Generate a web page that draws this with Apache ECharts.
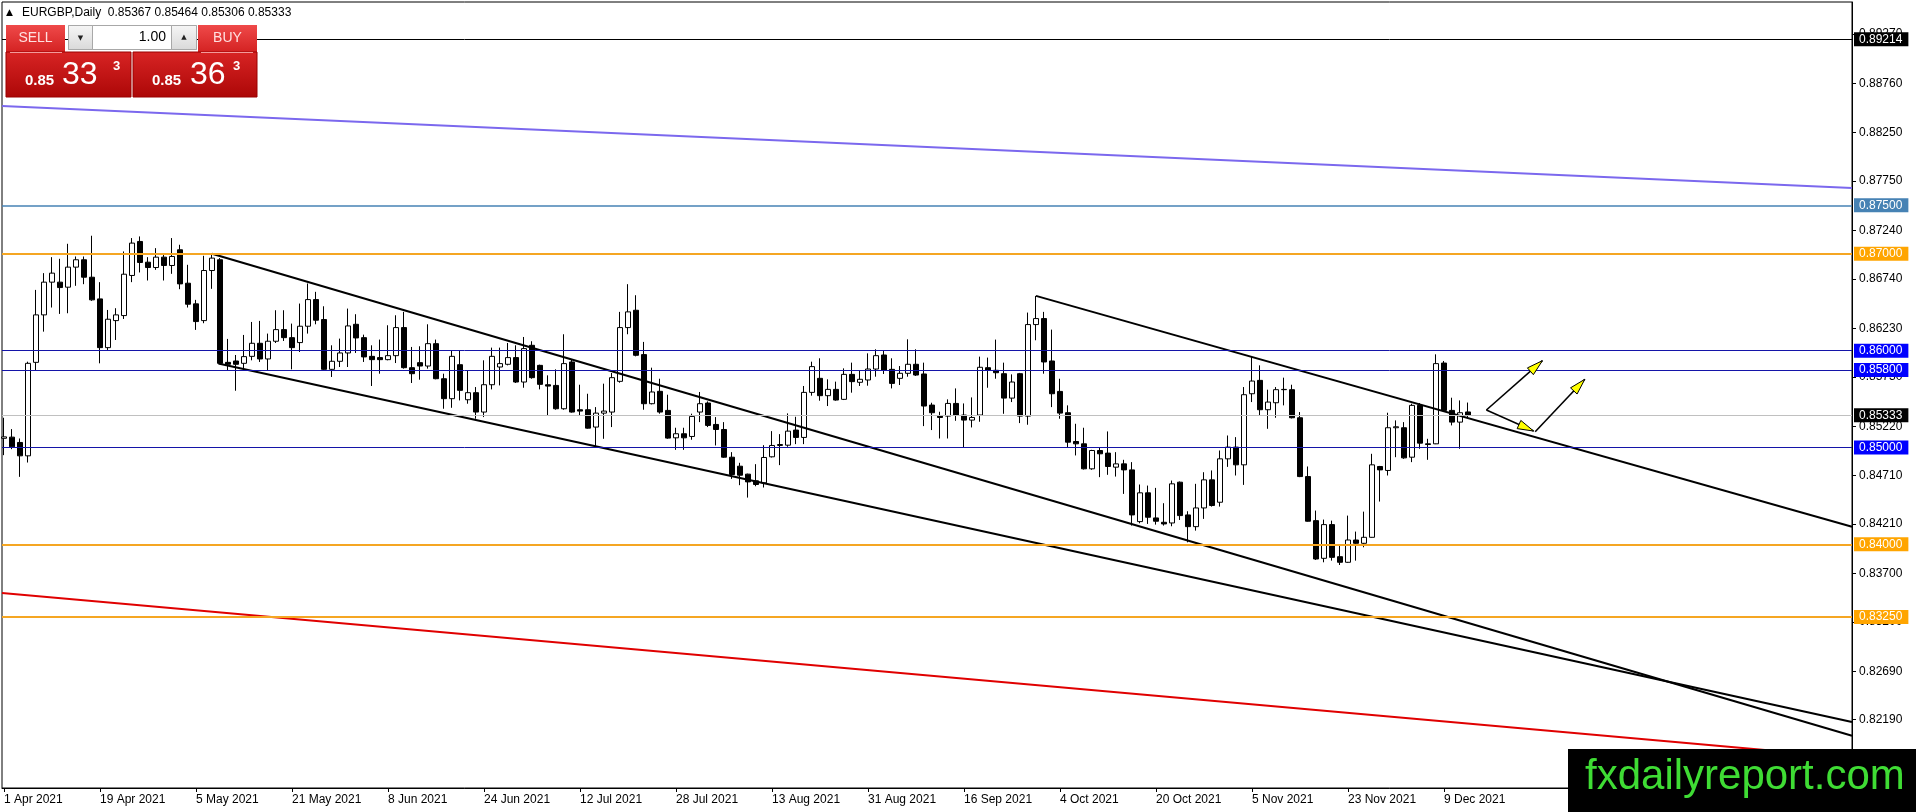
<!DOCTYPE html>
<html><head><meta charset="utf-8">
<script src="https://cdn.jsdelivr.net/npm/echarts@6/dist/echarts.min.js"></script>
<style>html,body{margin:0;padding:0;background:#fff}#c{width:1916px;height:812px}</style>
</head><body><div id="c"></div><script>
// ---------- DATA ----------
const symbolName = 'EURGBP,Daily';
const bidPrice = 0.85333;
const askPrice = 0.85363;
// daily candles [open, high, low, close], 1 Apr 2021 .. 14 Dec 2021
const ohlc = [
[0.85095,0.85307,0.84921,0.85110],[0.85107,0.85190,0.84983,0.85007],[0.85052,0.85093,0.84697,0.84914],[0.84914,0.85886,0.84845,0.85869],
[0.85879,0.86627,0.85800,0.86369],[0.86369,0.86800,0.86196,0.86707],[0.86707,0.86965,0.86445,0.86800],[0.86707,0.86948,0.86379,0.86651],
[0.86655,0.87103,0.86386,0.86862],[0.86862,0.86972,0.86669,0.86938],[0.86938,0.86972,0.86686,0.86758],[0.86758,0.87186,0.86514,0.86524],
[0.86534,0.86707,0.85869,0.86031],[0.86031,0.86420,0.86007,0.86324],[0.86310,0.86438,0.86110,0.86369],[0.86362,0.87024,0.86327,0.86789],
[0.86776,0.87162,0.86707,0.87110],[0.87127,0.87179,0.86807,0.86910],[0.86913,0.86965,0.86724,0.86858],[0.86858,0.87058,0.86834,0.86965],
[0.86965,0.86996,0.86724,0.86879],[0.86879,0.87162,0.86793,0.86972],[0.87041,0.87093,0.86634,0.86689],[0.86696,0.86886,0.86445,0.86479],
[0.86483,0.86524,0.86214,0.86300],[0.86310,0.86979,0.86283,0.86827],[0.86827,0.86996,0.86638,0.86955],[0.86938,0.86955,0.85859,0.85869],
[0.85879,0.86121,0.85800,0.85859],[0.85893,0.85955,0.85586,0.85859],[0.85869,0.86162,0.85800,0.85938],[0.85941,0.86296,0.85900,0.86076],
[0.86076,0.86307,0.85883,0.85914],[0.85914,0.86176,0.85797,0.86097],[0.86097,0.86417,0.86079,0.86217],[0.86217,0.86417,0.86100,0.86134],
[0.86134,0.86279,0.85807,0.86031],[0.86083,0.86486,0.85986,0.86252],[0.86252,0.86693,0.86176,0.86527],[0.86527,0.86607,0.86272,0.86314],
[0.86321,0.86458,0.85797,0.85807],[0.85807,0.86055,0.85728,0.85890],[0.85890,0.86124,0.85831,0.85976],[0.85976,0.86434,0.85831,0.86255],
[0.86272,0.86376,0.85976,0.86131],[0.86134,0.86165,0.85883,0.85935],[0.85941,0.86055,0.85635,0.85907],[0.85928,0.86114,0.85762,0.85907],
[0.85907,0.86262,0.85900,0.85948],[0.85948,0.86365,0.85872,0.86238],[0.86238,0.86400,0.85814,0.85824],[0.85824,0.86038,0.85666,0.85762],
[0.85876,0.86045,0.85700,0.85841],[0.85841,0.86272,0.85814,0.86072],[0.86072,0.86114,0.85704,0.85710],[0.85710,0.85762,0.85400,0.85504],
[0.85504,0.85997,0.85410,0.85941],[0.85855,0.85997,0.85486,0.85590],[0.85493,0.85797,0.85452,0.85566],[0.85566,0.85624,0.85297,0.85366],
[0.85366,0.85900,0.85314,0.85648],[0.85648,0.86031,0.85600,0.85941],[0.85831,0.86031,0.85641,0.85866],[0.85859,0.86079,0.85848,0.85928],
[0.85928,0.86055,0.85666,0.85676],[0.85676,0.86141,0.85617,0.86021],[0.86055,0.86097,0.85710,0.85721],[0.85848,0.85855,0.85600,0.85652],
[0.85648,0.85745,0.85331,0.85634],[0.85641,0.85807,0.85390,0.85400],[0.85400,0.86169,0.85390,0.85866],[0.85883,0.85907,0.85360,0.85366],
[0.85390,0.85648,0.85331,0.85376],[0.85390,0.85555,0.85195,0.85200],[0.85211,0.85417,0.85004,0.85355],[0.85355,0.85659,0.85090,0.85376],
[0.85366,0.85769,0.85211,0.85721],[0.85683,0.86400,0.85669,0.86238],[0.86238,0.86686,0.86169,0.86400],[0.86417,0.86572,0.85941,0.85952],
[0.85959,0.86090,0.85390,0.85452],[0.85452,0.85824,0.85445,0.85573],[0.85580,0.85710,0.85349,0.85366],[0.85383,0.85545,0.85090,0.85097],
[0.85100,0.85204,0.84976,0.85142],[0.85142,0.85204,0.84976,0.85100],[0.85114,0.85349,0.85080,0.85321],[0.85366,0.85573,0.85262,0.85452],
[0.85459,0.85476,0.85211,0.85228],[0.85238,0.85314,0.85021,0.85186],[0.85186,0.85262,0.84893,0.84900],[0.84900,0.84952,0.84676,0.84721],
[0.84807,0.84842,0.84611,0.84714],[0.84725,0.84730,0.84483,0.84645],[0.84656,0.84828,0.84600,0.84618],[0.84635,0.85024,0.84587,0.84897],
[0.84904,0.85169,0.84897,0.85021],[0.85021,0.85138,0.84818,0.85031],[0.85024,0.85352,0.85007,0.85169],[0.85180,0.85317,0.85035,0.85104],
[0.85104,0.85635,0.85035,0.85569],[0.85569,0.85886,0.85535,0.85835],[0.85714,0.85921,0.85483,0.85535],[0.85535,0.85704,0.85428,0.85600],
[0.85600,0.85680,0.85483,0.85490],[0.85497,0.85817,0.85490,0.85755],[0.85755,0.85876,0.85566,0.85680],[0.85673,0.85793,0.85635,0.85704],
[0.85697,0.85972,0.85638,0.85810],[0.85810,0.86014,0.85731,0.85948],[0.85955,0.86000,0.85759,0.85800],[0.85807,0.85921,0.85610,0.85662],
[0.85714,0.85841,0.85645,0.85766],[0.85766,0.86117,0.85731,0.85859],[0.85859,0.86014,0.85738,0.85748],[0.85759,0.85876,0.85221,0.85428],
[0.85438,0.85462,0.85180,0.85359],[0.85324,0.85369,0.85093,0.85310],[0.85324,0.85497,0.85093,0.85455],[0.85455,0.85610,0.85276,0.85335],
[0.85335,0.85455,0.85000,0.85283],[0.85283,0.85517,0.85207,0.85310],[0.85335,0.85938,0.85266,0.85828],[0.85824,0.85928,0.85617,0.85797],
[0.85797,0.86114,0.85710,0.85772],[0.85762,0.85876,0.85348,0.85510],[0.85510,0.85755,0.85469,0.85676],[0.85762,0.85770,0.85252,0.85324],
[0.85324,0.86393,0.85235,0.86269],[0.86269,0.86565,0.86107,0.86331],[0.86331,0.86400,0.85762,0.85883],[0.85893,0.86217,0.85417,0.85555],
[0.85579,0.85710,0.85297,0.85355],[0.85359,0.85435,0.85004,0.85055],[0.85062,0.85245,0.84918,0.85038],[0.85038,0.85204,0.84773,0.84780],
[0.84780,0.84976,0.84770,0.84969],[0.84969,0.85004,0.84694,0.84935],[0.84942,0.85166,0.84718,0.84804],[0.84797,0.84952,0.84700,0.84831],
[0.84831,0.84873,0.84521,0.84769],[0.84769,0.84849,0.84194,0.84304],[0.84235,0.84618,0.84218,0.84532],[0.84532,0.84607,0.84211,0.84280],
[0.84273,0.84583,0.84204,0.84239],[0.84228,0.84425,0.84194,0.84211],[0.84221,0.84659,0.84187,0.84625],[0.84642,0.84649,0.84252,0.84297],
[0.84304,0.84342,0.84021,0.84183],[0.84183,0.84625,0.84142,0.84376],[0.84376,0.84745,0.84263,0.84666],[0.84666,0.84763,0.84390,0.84401],
[0.84435,0.84969,0.84390,0.84883],[0.84883,0.85124,0.84800,0.85004],[0.85004,0.85107,0.84711,0.84821],[0.84821,0.85624,0.84614,0.85545],
[0.85555,0.85941,0.85469,0.85686],[0.85693,0.85848,0.85331,0.85390],[0.85390,0.85597,0.85193,0.85469],[0.85462,0.85624,0.85307,0.85597],
[0.85597,0.85721,0.85435,0.85600],[0.85597,0.85648,0.85300,0.85307],[0.85307,0.85366,0.84694,0.84700],[0.84700,0.84804,0.84235,0.84239],
[0.84245,0.84349,0.83839,0.83849],[0.83856,0.84256,0.83815,0.84204],[0.84204,0.84245,0.83832,0.83866],[0.83873,0.83994,0.83787,0.83815],
[0.83815,0.84297,0.83810,0.84045],[0.84045,0.84132,0.83832,0.84011],[0.84011,0.84338,0.83970,0.84073],[0.84073,0.84935,0.84070,0.84821],
[0.84804,0.84810,0.84442,0.84769],[0.84763,0.85359,0.84711,0.85204],[0.85204,0.85280,0.84900,0.85214],[0.85204,0.85262,0.84883,0.84893],
[0.84900,0.85452,0.84849,0.85435],[0.85435,0.85459,0.84987,0.85045],[0.85038,0.85090,0.84873,0.85031],[0.85038,0.85962,0.85035,0.85866],
[0.85872,0.85893,0.85376,0.85383],[0.85383,0.85514,0.85228,0.85262],[0.85262,0.85486,0.84987,0.85359],[0.85367,0.85464,0.85306,0.85333]
];
// x-axis date labels and the bar index they sit on
const dateLabels = ['1 Apr 2021','19 Apr 2021','5 May 2021','21 May 2021','8 Jun 2021','24 Jun 2021','12 Jul 2021','28 Jul 2021',
  '13 Aug 2021','31 Aug 2021','16 Sep 2021','4 Oct 2021','20 Oct 2021','5 Nov 2021','23 Nov 2021','9 Dec 2021'];
const dateTickBars = [0,12,24,36,48,60,72,84,96,108,120,132,144,156,168,180];
// right price-scale tick labels
const priceTicks = [0.89270,0.88760,0.88250,0.87750,0.87240,0.86740,0.86230,0.85730,0.85220,0.84710,0.84210,0.83700,0.83200,0.82690,0.82190];
// horizontal levels
const levelPrices = [0.89214, 0.87500, 0.87000, 0.86000, 0.85800, 0.85333, 0.85000, 0.84000, 0.83250];
// trend lines [barIndex, price]
const channelTop    = [[26, 0.87000], [231, 0.82025]];
const channelBottom = [[26.8, 0.85867], [231, 0.82166]];
const fallLine      = [[129, 0.86565], [231, 0.84182]];
const violetLine    = [[-0.25, 0.88525], [231, 0.87679]];
const redLine       = [[-0.25, 0.83497], [231, 0.81797]];
// arrows [fromBar, fromPrice, toBar, toPrice]
const arrows = [
  [185.3, 0.85387, 192.3, 0.85896],
  [185.3, 0.85387, 191.2, 0.85170],
  [191.4, 0.85163, 197.6, 0.85704]
];

// ---------- STYLE ----------
const FONT = 'Liberation Sans, Arial, sans-serif';
const levelStyle = [
  {line:'#000000', w:1,   box:'#000000'},
  {line:'#4682b4', w:1.5, box:'#4682b4'},
  {line:'#f5a623', w:2,   box:'#ffa500'},
  {line:'#1414a8', w:1,   box:'#0000ff'},
  {line:'#1414a8', w:1,   box:'#0000ff'},
  {line:'#c0c0c0', w:1,   box:'#000000'},
  {line:'#1414a8', w:1,   box:'#0000ff'},
  {line:'#f5a623', w:2,   box:'#ffa500'},
  {line:'#f5a623', w:2,   box:'#ffa500'}
];

const candleSource = ohlc.map((r, i) => [i, r[0], r[3], r[2], r[1]]);
const last = ohlc[ohlc.length - 1];
const titleText = symbolName + '  ' + last.map(v => v.toFixed(5)).join(' ');

function splitPrice(p) {
  const s = p.toFixed(5);
  return {head: s.slice(0, 4), big: s.slice(4, 6), pip: s.slice(6)};
}
const bidS = splitPrice(bidPrice), askS = splitPrice(askPrice);

const markData = levelPrices.map((p, k) => ({
  yAxis: p,
  lineStyle: {color: levelStyle[k].line, width: levelStyle[k].w, type: 'solid'},
  label: {show: true, position: 'end', distance: 2, formatter: p.toFixed(5),
    backgroundColor: levelStyle[k].box, color: '#fff', fontSize: 12, fontFamily: FONT,
    padding: [1, 6, 0, 5], lineHeight: 13}
}));

function trend(pts, color, width) {
  return {type: 'line', data: pts, symbol: 'none', silent: true, z: 4, animation: false,
    lineStyle: {color: color, width: width}, clip: false};
}

const redGrad = (a, b) => ({type: 'linear', x: 0, y: 0, x2: 0, y2: 1, colorStops: [{offset: 0, color: a}, {offset: 1, color: b}]});
const grayGrad = redGrad('#f6f6f6', '#d9d9d9');

const g = [];
// title
g.push({type: 'text', z: 100, style: {x: 6, y: 13, text: '▲', font: '9px DejaVu Sans', fill: '#000', verticalAlign: 'middle'}});
g.push({type: 'text', z: 100, style: {x: 22, y: 13, text: titleText, font: '12px ' + FONT, fill: '#000', verticalAlign: 'middle'}});
// sell / buy panel
g.push({type: 'rect', z: 100, shape: {x: 6, y: 25, width: 59, height: 27}, style: {fill: redGrad('#ef4a4a', '#d42222')}});
g.push({type: 'rect', z: 100, shape: {x: 198, y: 25, width: 59, height: 27}, style: {fill: redGrad('#ef4a4a', '#d42222')}});
g.push({type: 'rect', z: 100, shape: {x: 6, y: 52, width: 125, height: 45}, style: {fill: redGrad('#d82424', '#ac0707'), stroke: '#9a0000', lineWidth: 1}});
g.push({type: 'rect', z: 100, shape: {x: 133, y: 52, width: 124, height: 45}, style: {fill: redGrad('#d82424', '#ac0707'), stroke: '#9a0000', lineWidth: 1}});
g.push({type: 'line', z: 101, shape: {x1: 10, y1: 52.5, x2: 62, y2: 52.5}, style: {stroke: '#f39a9a', lineWidth: 1}});
g.push({type: 'line', z: 101, shape: {x1: 201, y1: 52.5, x2: 253, y2: 52.5}, style: {stroke: '#f39a9a', lineWidth: 1}});
g.push({type: 'text', z: 101, style: {x: 35.5, y: 38.5, text: 'SELL', font: '14px ' + FONT, fill: '#ffe0e0', align: 'center', verticalAlign: 'middle'}});
g.push({type: 'text', z: 101, style: {x: 227.5, y: 38.5, text: 'BUY', font: '14px ' + FONT, fill: '#ffe0e0', align: 'center', verticalAlign: 'middle'}});
// spinner
g.push({type: 'rect', z: 100, shape: {x: 68.5, y: 25.5, width: 128, height: 24}, style: {fill: '#fff', stroke: '#a8a8a8', lineWidth: 1}});
g.push({type: 'rect', z: 101, shape: {x: 68.5, y: 25.5, width: 24, height: 24}, style: {fill: grayGrad, stroke: '#a8a8a8', lineWidth: 1}});
g.push({type: 'rect', z: 101, shape: {x: 171.5, y: 25.5, width: 25, height: 24}, style: {fill: grayGrad, stroke: '#a8a8a8', lineWidth: 1}});
g.push({type: 'text', z: 102, style: {x: 80.5, y: 38, text: '▼', font: '7px DejaVu Sans', fill: '#222', align: 'center', verticalAlign: 'middle'}});
g.push({type: 'text', z: 102, style: {x: 184, y: 37, text: '▲', font: '7px DejaVu Sans', fill: '#222', align: 'center', verticalAlign: 'middle'}});
g.push({type: 'text', z: 102, style: {x: 166, y: 37.5, text: (1).toFixed(2), font: '14px ' + FONT, fill: '#000', align: 'right', verticalAlign: 'middle'}});
// prices
function priceTexts(s, x0, xBig, xPip) {
  g.push({type: 'text', z: 102, style: {x: x0, y: 81, text: s.head, font: 'bold 15px ' + FONT, fill: '#fff', verticalAlign: 'middle'}});
  g.push({type: 'text', z: 102, style: {x: xBig, y: 75.5, text: s.big, font: '32px ' + FONT, fill: '#fff', verticalAlign: 'middle'}});
  g.push({type: 'text', z: 102, style: {x: xPip, y: 66.5, text: s.pip, font: 'bold 13px ' + FONT, fill: '#fff', verticalAlign: 'middle'}});
}
priceTexts(bidS, 25, 62, 113);
priceTexts(askS, 152, 190, 233);
// watermark
g.push({type: 'rect', z: 100, shape: {x: 1568, y: 749, width: 348, height: 63}, style: {fill: '#000'}});
g.push({type: 'text', z: 101, style: {x: 1585, y: 777, text: 'fxdailyreport.com', font: '42px ' + FONT, fill: '#3fdc34', verticalAlign: 'middle'}});

const chart = echarts.init(document.getElementById('c'), null, {renderer: 'canvas'});
chart.setOption({
  animation: false,
  backgroundColor: '#ffffff',
  grid: {left: 2, right: 64, top: 2, bottom: 24, show: true, borderColor: '#000', borderWidth: 1, backgroundColor: 'transparent'},
  xAxis: {
    type: 'value', min: -0.25, max: 231, splitLine: {show: false},
    axisLine: {show: true, onZero: false, lineStyle: {color: '#000', width: 1}},
    axisTick: {show: true, length: 4, lineStyle: {color: '#000'}, customValues: dateTickBars},
    axisLabel: {show: true, customValues: dateTickBars, align: 'left', margin: 6, color: '#000', fontSize: 12, fontFamily: FONT,
      formatter: v => dateLabels[dateTickBars.indexOf(Math.round(v))] || ''}
  },
  yAxis: {
    type: 'value', position: 'right', min: 0.81485, max: 0.89599, scale: true, splitLine: {show: false},
    axisLine: {show: true, onZero: false, lineStyle: {color: '#000', width: 1}},
    axisTick: {show: true, length: 4, lineStyle: {color: '#000'}, customValues: priceTicks},
    axisLabel: {show: true, customValues: priceTicks, margin: 7, color: '#000', fontSize: 12, fontFamily: FONT,
      formatter: v => v.toFixed(5)}
  },
  series: [
    {
      type: 'candlestick', z: 2, barWidth: 5, silent: true,
      data: candleSource, encode: {x: 0, y: [1, 2, 3, 4]},
      itemStyle: {color: '#ffffff', color0: '#000000', borderColor: '#000000', borderColor0: '#000000', borderWidth: 1},
      markLine: {symbol: ['none', 'none'], precision: 5, silent: true, animation: false, z: 5, data: markData}
    },
    trend(violetLine, '#7b68ee', 2),
    trend(redLine, '#e00000', 2),
    trend(channelTop, '#000000', 2),
    trend(channelBottom, '#000000', 2),
    trend(fallLine, '#000000', 2),
    {
      type: 'custom', z: 6, silent: true, data: arrows, encode: {x: [0, 2], y: [1, 3]}, clip: false,
      renderItem: function (params, api) {
        const a = api.coord([api.value(0), api.value(1)]);
        const b = api.coord([api.value(2), api.value(3)]);
        const dx = b[0] - a[0], dy = b[1] - a[1];
        const len = Math.hypot(dx, dy) || 1;
        const ux = dx / len, uy = dy / len, L = 16, W = 4.5;
        const bx = b[0] - ux * L, by = b[1] - uy * L;
        return {type: 'group', children: [
          {type: 'line', shape: {x1: a[0], y1: a[1], x2: b[0], y2: b[1]}, style: {stroke: '#000', lineWidth: 1.6}},
          {type: 'polygon', shape: {points: [[b[0], b[1]], [bx - uy * W, by + ux * W], [bx + uy * W, by - ux * W]]},
            style: {fill: '#ffff00', stroke: '#000', lineWidth: 1}}
        ]};
      }
    }
  ],
  graphic: {elements: g}
});
</script></body></html>
